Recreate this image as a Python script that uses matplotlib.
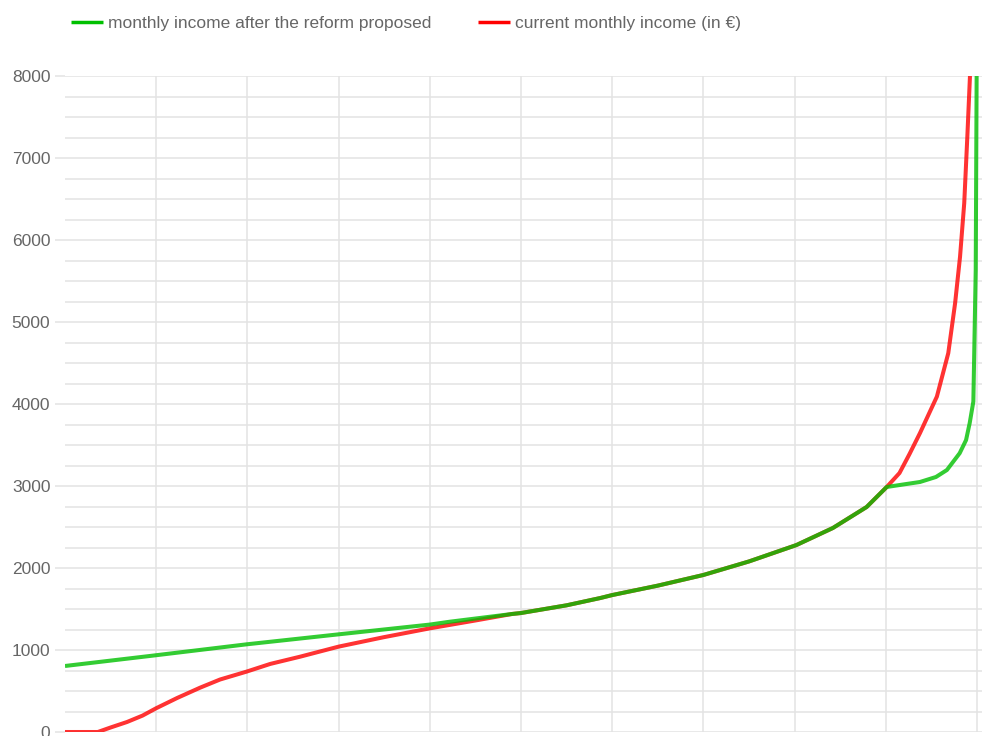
import matplotlib
matplotlib.use("Agg")
import matplotlib.pyplot as plt
from matplotlib.ticker import MultipleLocator

plt.rcParams['font.family'] = ['Liberation Sans', 'DejaVu Sans']

# Percentile of population (x) and monthly income in EUR (y)
current_x = [0, 3.6, 5, 6.8, 8.5, 10, 12.3, 14.8, 17, 19.9, 22.5, 25.8, 30, 34.9, 40,
             45, 49, 50, 55, 58.7, 60, 65, 70, 75, 80.2, 84.2, 87.9, 90.1, 91.5,
             92.6, 93.75, 95.6, 96.85, 97.6, 98.14, 98.6, 98.94, 99.23]
current_y = [0, 0, 55, 122, 200, 290, 415, 540, 640, 736, 830, 919, 1041, 1155, 1264,
             1360, 1439, 1451, 1545, 1634, 1670, 1785, 1915, 2080, 2280, 2488, 2744,
             2988, 3158, 3390, 3646, 4090, 4620, 5230, 5796, 6450, 7260, 8000]

reform_x = [0, 9.3, 19.9, 30, 40, 42.2, 49, 50, 55, 58.7, 60, 65, 70, 75, 80.2, 84.2,
            87.9, 90.1, 92, 93.75, 95.5, 96.7, 98.1, 98.8, 99.2, 99.6, 99.86, 99.96]
reform_y = [805, 927, 1069, 1191, 1310, 1345, 1439, 1451, 1545, 1634, 1670, 1785,
            1915, 2080, 2280, 2488, 2744, 2988, 3020, 3049, 3110, 3195, 3400, 3560,
            3768, 4030, 5634, 8000]

y_major = list(range(0, 8001, 1000))
x_grid = list(range(10, 101, 10))

W, H = 987, 736
fig = plt.figure(figsize=(W / 100, H / 100), dpi=100)
x0_px, px_per_unit = 65, 9.12
xmax = 100.6
right_px = x0_px + px_per_unit * xmax
ax = fig.add_axes([x0_px / W, 4 / H, (right_px - x0_px) / W, (732 - 76) / H])

grid_c = '#e3e3e3'
ax.set_xlim(0, xmax)
ax.set_ylim(0, 8000)
ax.set_yticks(y_major)
ax.yaxis.set_minor_locator(MultipleLocator(250))
ax.set_xticks(x_grid)
ax.set_xticklabels([])
ax.tick_params(axis='x', length=0)
ax.tick_params(axis='y', which='major', length=7.5, width=1.1, color=grid_c,
               pad=3, labelsize=12.5, labelcolor='#666666')
ax.tick_params(axis='y', which='minor', length=0)
ax.grid(True, which='major', axis='both', color=grid_c, linewidth=1.1)
ax.grid(True, which='minor', axis='y', color=grid_c, linewidth=1.1)
ax.set_axisbelow(True)
for s in ax.spines.values():
    s.set_visible(False)

l_red, = ax.plot(current_x, current_y, color='#ff0000', alpha=0.8, lw=2.9,
                 solid_capstyle='butt', solid_joinstyle='round', zorder=3,
                 label='current monthly income (in €)')
l_green, = ax.plot(reform_x, reform_y, color='#00c000', alpha=0.8, lw=2.9,
                   solid_capstyle='butt', solid_joinstyle='round', zorder=4,
                   label='monthly income after the reform proposed')

leg = fig.legend(handles=[l_green, l_red], loc='center left',
                 bbox_to_anchor=(55 / W, 1 - 23 / H), ncol=2, frameon=False,
                 fontsize=12.5, handlelength=1.85, handletextpad=0.3,
                 columnspacing=2.68, labelcolor='#666666')
for h in leg.legend_handles:
    h.set_alpha(1.0)
    h.set_linewidth(2.5)

fig.savefig('out.png', dpi=100, facecolor='white')
